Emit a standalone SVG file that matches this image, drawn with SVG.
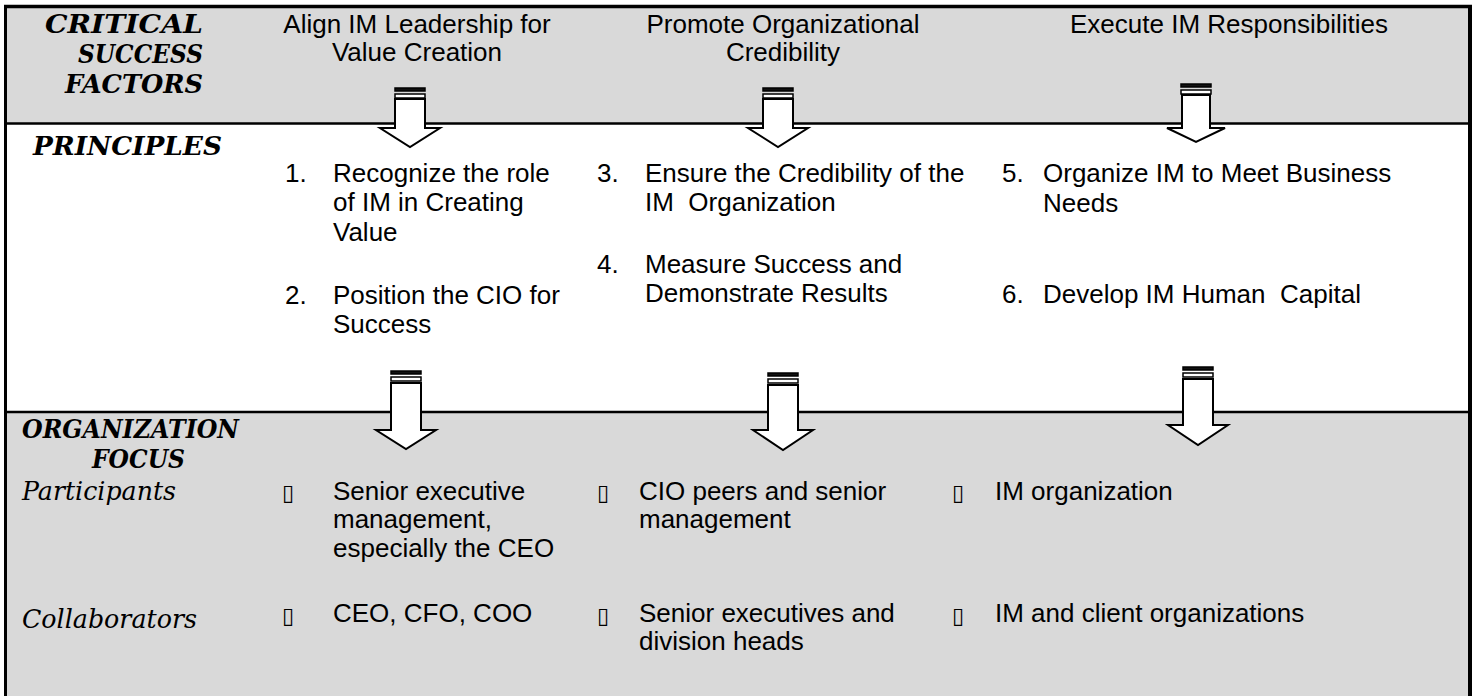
<svg xmlns="http://www.w3.org/2000/svg" width="1476" height="696" viewBox="0 0 1476 696">
<style>
.band{fill:#d9d9d9}
.t{font-family:"Liberation Sans",Arial,sans-serif;font-size:26px;fill:#000}
.c{text-anchor:middle}
.h{font-family:"DejaVu Serif","Liberation Serif",serif;font-size:26px;font-weight:bold;font-style:italic;fill:#000}
.r{font-family:"DejaVu Serif","Liberation Serif",serif;font-size:26px;font-style:italic;fill:#000}
.b{font-family:"DejaVu Sans",sans-serif;font-size:22px;fill:#000}
.arr{fill:#fff;stroke:#000;stroke-width:2;stroke-linejoin:miter}
.s1{fill:#111;stroke:#000;stroke-width:1.5}
.s2{fill:#fff;stroke:#000;stroke-width:1.5}
.ln{stroke:#000;fill:none}
</style>
<defs>
<g id="arrowShape">
<rect class="s1" x="-15" y="0" width="30" height="3"/>
<rect class="s2" x="-15" y="6" width="30" height="4"/>
</g>
</defs>
<rect x="0" y="0" width="1476" height="696" fill="#fff"/>
<g id="bands">
<rect class="band" x="6" y="7" width="1463" height="116"/>
<rect class="band" x="6" y="412" width="1463" height="284"/>
<line class="ln" x1="6" y1="123.5" x2="1469" y2="123.5" stroke-width="2.5"/>
<line class="ln" x1="6" y1="412" x2="1469" y2="412" stroke-width="2.5"/>
<line class="ln" x1="4" y1="6.5" x2="1472" y2="6.5" stroke-width="3.5"/>
<line class="ln" x1="5.5" y1="5" x2="5.5" y2="696" stroke-width="3"/>
<line class="ln" x1="1470" y1="5" x2="1470" y2="696" stroke-width="4"/>
</g>
<g id="row-labels">
<text class="h" x="45" y="33" textLength="158" lengthAdjust="spacingAndGlyphs">CRITICAL</text>
<text class="h" x="78" y="63" textLength="125" lengthAdjust="spacingAndGlyphs">SUCCESS</text>
<text class="h" x="65" y="93" textLength="138" lengthAdjust="spacingAndGlyphs">FACTORS</text>
<text class="h" x="33" y="155" textLength="189" lengthAdjust="spacingAndGlyphs">PRINCIPLES</text>
<text class="h" x="22" y="438" textLength="217" lengthAdjust="spacingAndGlyphs">ORGANIZATION</text>
<text class="h" x="92" y="468" textLength="93" lengthAdjust="spacingAndGlyphs">FOCUS</text>
<text class="r" x="22" y="500" textLength="154" lengthAdjust="spacingAndGlyphs">Participants</text>
<text class="r" x="22" y="628" textLength="175" lengthAdjust="spacingAndGlyphs">Collaborators</text>
</g>
<g id="csf-1">
<text class="t c" x="417" y="33">Align IM Leadership for</text>
<text class="t c" x="417" y="61">Value Creation</text>
</g>
<g id="csf-2">
<text class="t c" x="783" y="33">Promote Organizational</text>
<text class="t c" x="783" y="61">Credibility</text>
</g>
<g id="csf-3">
<text class="t c" x="1229" y="33">Execute IM Responsibilities</text>
</g>
<g id="principles-1">
<text class="t" x="285" y="182">1.</text>
<text class="t" x="333" y="182">Recognize the role</text>
<text class="t" x="333" y="211">of IM in Creating</text>
<text class="t" x="333" y="241">Value</text>
<text class="t" x="285" y="304">2.</text>
<text class="t" x="333" y="304">Position the CIO for</text>
<text class="t" x="333" y="333">Success</text>
</g>
<g id="principles-2">
<text class="t" x="597" y="182">3.</text>
<text class="t" x="645" y="182">Ensure the Credibility of the</text>
<text class="t" x="645" y="211" xml:space="preserve">IM  Organization</text>
<text class="t" x="597" y="273">4.</text>
<text class="t" x="645" y="273">Measure Success and</text>
<text class="t" x="645" y="302">Demonstrate Results</text>
</g>
<g id="principles-3">
<text class="t" x="1002" y="182">5.</text>
<text class="t" x="1043" y="182">Organize IM to Meet Business</text>
<text class="t" x="1043" y="212">Needs</text>
<text class="t" x="1002" y="303">6.</text>
<text class="t" x="1043" y="303" xml:space="preserve">Develop IM Human  Capital</text>
</g>
<g id="focus-1">
<text class="b" x="282" y="500">▯</text>
<text class="t" x="333" y="500">Senior executive</text>
<text class="t" x="333" y="528">management,</text>
<text class="t" x="333" y="557">especially the CEO</text>
<text class="b" x="282" y="623">▯</text>
<text class="t" x="333" y="622">CEO, CFO, COO</text>
</g>
<g id="focus-2">
<text class="b" x="597" y="500">▯</text>
<text class="t" x="639" y="500">CIO peers and senior</text>
<text class="t" x="639" y="528">management</text>
<text class="b" x="597" y="623">▯</text>
<text class="t" x="639" y="622">Senior executives and</text>
<text class="t" x="639" y="650">division heads</text>
</g>
<g id="focus-3">
<text class="b" x="952" y="500">▯</text>
<text class="t" x="995" y="500">IM organization</text>
<text class="b" x="952" y="623">▯</text>
<text class="t" x="995" y="622">IM and client organizations</text>
</g>
<g id="connectors">
<g transform="translate(410,88)">
<use href="#arrowShape"/>
<polygon class="arr" points="-15,11 15,11 15,40 30,40 0,59 -30,40 -15,40"/>
</g>
<g transform="translate(778,88)">
<use href="#arrowShape"/>
<polygon class="arr" points="-15,11 15,11 15,40 30,40 0,59 -30,40 -15,40"/>
</g>
<g transform="translate(1196,84)">
<use href="#arrowShape"/>
<polygon class="arr" points="-14,11 14,11 14,44 29,44 0,58 -29,44 -14,44"/>
</g>
<g transform="translate(406,371)">
<use href="#arrowShape"/>
<polygon class="arr" points="-15,12 15,12 15,59 30,59 0,78 -30,59 -15,59"/>
</g>
<g transform="translate(783,373)">
<use href="#arrowShape"/>
<polygon class="arr" points="-15,12 15,12 15,57 30,57 0,77 -30,57 -15,57"/>
</g>
<g transform="translate(1198,367)">
<use href="#arrowShape"/>
<polygon class="arr" points="-15,12 15,12 15,58 30,58 0,78 -30,58 -15,58"/>
</g>
</g>
</svg>
